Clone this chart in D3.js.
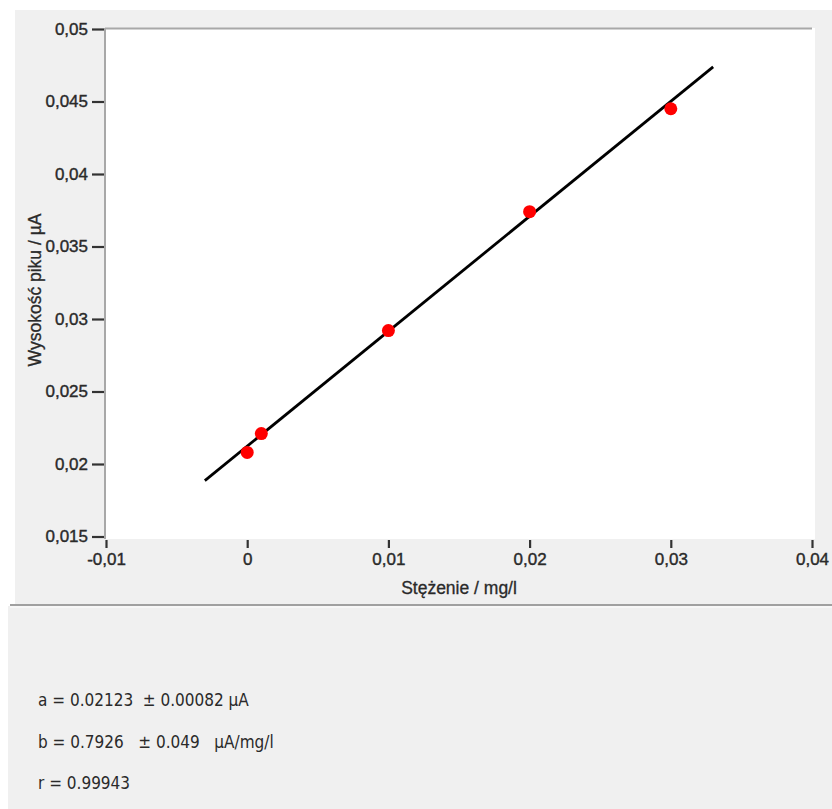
<!DOCTYPE html>
<html>
<head>
<meta charset="utf-8">
<script src="https://cdn.jsdelivr.net/npm/d3@7"></script>
<style>
  body { margin: 0; background: #fff; }
  svg { display: block; }
</style>
</head>
<body>
<svg id="plot" width="832" height="809"></svg>
<script>
// measured points
const conc = [0, 0.001, 0.01, 0.02, 0.03];
const peak = [0.0208, 0.0221, 0.0292, 0.0374, 0.0445];
// fitted line y = a + b x, drawn over this range
const fitA = 0.02123;
const fitB = 0.7926;
const fitRange = [-0.003, 0.033];
const xTicks = [-0.01, 0, 0.01, 0.02, 0.03, 0.04];
const yTicks = [0.015, 0.02, 0.025, 0.03, 0.035, 0.04, 0.045, 0.05];
const statLines = [
  "a = 0.02123  \u00b1 0.00082 \u00b5A",
  "b = 0.7926   \u00b1 0.049   \u00b5A/mg/l",
  "r = 0.99943"
];

const svg = d3.select('#plot');
const fmt = d => String(d).replace('.', ',');

// panels
svg.append('rect').attr('x', 15).attr('y', 10).attr('width', 817).attr('height', 596).attr('fill', '#f0f0f0');
svg.append('rect').attr('x', 8).attr('y', 606).attr('width', 824).attr('height', 203).attr('fill', '#f0f0f0');
svg.append('line').attr('x1', 10).attr('x2', 832).attr('y1', 605).attr('y2', 605)
  .attr('stroke', '#a0a0a0').attr('stroke-width', 2);
svg.append('line').attr('x1', 10).attr('x2', 832).attr('y1', 607).attr('y2', 607)
  .attr('stroke', '#fafafa').attr('stroke-width', 1.5);

const x = d3.scaleLinear().domain([-0.01, 0.04]).range([106, 812]);
const y = d3.scaleLinear().domain([0.015, 0.05]).range([536.5, 29]);

// plot area
svg.append('rect').attr('x', 105).attr('y', 28).attr('width', 710).attr('height', 511).attr('fill', '#fff');
svg.append('line').attr('x1', 105).attr('x2', 812).attr('y1', 28.5).attr('y2', 28.5)
  .attr('stroke', '#a8a8a8').attr('stroke-width', 2);
svg.append('line').attr('x1', 105).attr('x2', 105).attr('y1', 28).attr('y2', 539)
  .attr('stroke', '#a8a8a8').attr('stroke-width', 2);

const font = '"Liberation Sans", Arial, sans-serif';
const ink = '#2a2a2a';

const xAxis = svg.append('g').attr('transform', 'translate(0,540)')
  .call(d3.axisBottom(x).tickValues(xTicks).tickFormat(fmt).tickSize(8).tickPadding(5));
xAxis.select('.domain').remove();
xAxis.selectAll('line').attr('stroke', '#333').attr('stroke-width', 2.2);
xAxis.selectAll('text').attr('font-family', font).attr('font-size', 17).attr('fill', ink)
  .attr('stroke', ink).attr('stroke-width', 0.4);

const yAxis = svg.append('g').attr('transform', 'translate(104,0)')
  .call(d3.axisLeft(y).tickValues(yTicks).tickFormat(fmt).tickSize(12).tickPadding(4));
yAxis.select('.domain').remove();
yAxis.selectAll('line').attr('stroke', '#333').attr('stroke-width', 2.2);
yAxis.selectAll('text').attr('font-family', font).attr('font-size', 17).attr('fill', ink)
  .attr('stroke', ink).attr('stroke-width', 0.4);

// axis titles
svg.append('text').attr('x', 459).attr('y', 594).attr('text-anchor', 'middle')
  .attr('font-family', font).attr('font-size', 17.5).attr('fill', ink)
  .attr('stroke', ink).attr('stroke-width', 0.3).text('Stężenie / mg/l');
svg.append('text').attr('transform', 'translate(41,290) rotate(-90)').attr('text-anchor', 'middle')
  .attr('font-family', font).attr('font-size', 17.5).attr('fill', ink)
  .attr('stroke', ink).attr('stroke-width', 0.3).text('Wysokość piku / µA');

// fitted line
svg.append('line')
  .attr('x1', x(fitRange[0])).attr('y1', y(fitA + fitB * fitRange[0]))
  .attr('x2', x(fitRange[1])).attr('y2', y(fitA + fitB * fitRange[1]))
  .attr('stroke', '#000').attr('stroke-width', 2.8);

// points
svg.selectAll('circle.pt').data(conc).enter().append('circle')
  .attr('class', 'pt')
  .attr('cx', d => x(d)).attr('cy', (d, i) => y(peak[i])).attr('r', 6.5)
  .attr('fill', '#f00');

// statistics
svg.selectAll('text.stat').data(statLines).enter().append('text')
  .attr('class', 'stat')
  .attr('x', 38).attr('y', (d, i) => 706 + i * 41.5)
  .attr('font-family', '"DejaVu Sans Condensed", "DejaVu Sans", sans-serif')
  .attr('font-size', 17).attr('fill', ink)
  .attr('xml:space', 'preserve').style('white-space', 'pre')
  .text(d => d);
</script>
</body>
</html>
